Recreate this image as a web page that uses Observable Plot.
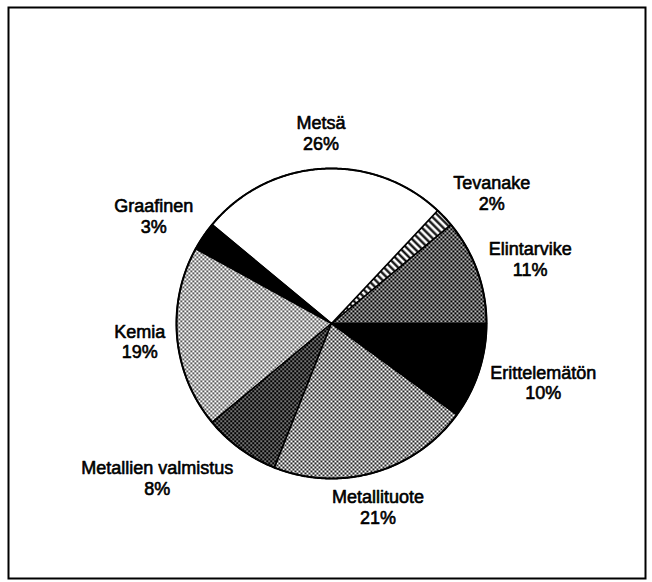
<!DOCTYPE html>
<html><head><meta charset="utf-8">
<script src="https://cdn.jsdelivr.net/npm/d3@7"></script>
<script src="https://cdn.jsdelivr.net/npm/@observablehq/plot@0.6"></script>
<style>html,body{margin:0;padding:0;background:#fff} svg{display:block}</style>
</head><body><div id="chart"></div>
<script>
// Data (counter-clockwise from 3 o'clock)
const categories = ["Elintarvike", "Tevanake", "Metsä", "Graafinen", "Kemia", "Metallien valmistus", "Metallituote", "Erittelemätön"];
const shares = [11, 2, 26, 3, 19, 8, 21, 10];
const shareLabels = ["11%", "2%", "26%", "3%", "19%", "8%", "21%", "10%"];

// Styles
const fills = {
  "Elintarvike": "url(#p-dark)",
  "Tevanake": "url(#p-stripes)",
  "Metsä": "white",
  "Graafinen": "black",
  "Kemia": "url(#p-light)",
  "Metallien valmistus": "url(#p-darker)",
  "Metallituote": "url(#p-medium)",
  "Erittelemätön": "black"
};

const FONT = "'Liberation Sans', Arial, Helvetica, sans-serif";
const FONT_SIZE = 18;
const R = 155; // pie radius in px (1 data unit)
const labelR = 167 / R;
const labelLift = 24 / R;

const ctx = document.createElement("canvas").getContext("2d");
ctx.font = `${FONT_SIZE}px ${FONT}`;
const textWidth = s => Math.max(...s.split("\n").map(l => ctx.measureText(l).width));

const total = d3.sum(shares);
let acc = 0;
const slices = categories.map((c, i) => {
  const a0 = acc / total * 2 * Math.PI;
  acc += shares[i];
  const a1 = acc / total * 2 * Math.PI;
  const mid = (a0 + a1) / 2;
  const label = c + "\n" + shareLabels[i];
  const cs = Math.cos(mid);
  const side = cs > 0.3 ? 1 : cs < -0.3 ? -1 : 0;
  return {
    category: c, a0, a1, mid, label,
    lx: cs * labelR + side * (textWidth(label) / 2) / R,
    ly: Math.sin(mid) * (labelR + labelLift)
  };
});

function arcPoints(a0, a1, withCenter) {
  const pts = withCenter ? [{x: 0, y: 0}] : [];
  const n = Math.max(2, Math.ceil((a1 - a0) / (Math.PI / 360)));
  for (let k = 0; k <= n; k++) {
    const a = a0 + (a1 - a0) * k / n;
    pts.push({x: Math.cos(a), y: Math.sin(a)});
  }
  if (withCenter) pts.push({x: 0, y: 0});
  return pts;
}

const sliceMarks = slices.map(s =>
  Plot.line(arcPoints(s.a0, s.a1, true), {
    x: "x", y: "y", fill: fills[s.category], stroke: "black",
    strokeWidth: 1.5, strokeLinejoin: "round"
  })
);

const W = 652, H = 582;
const mL = 8, mR = 7, mT = 7, mB = 4;
const cx = 331, cy = 323;

const svg = Plot.plot({
  width: W, height: H,
  marginLeft: mL, marginRight: mR, marginTop: mT, marginBottom: mB,
  x: {domain: [-(cx - mL) / R, (W - mR - cx) / R], axis: null},
  y: {domain: [-(H - mB - cy) / R, (cy - mT) / R], axis: null},
  style: {fontFamily: FONT, fontSize: FONT_SIZE + "px", background: "white", color: "black"},
  marks: [
    ...sliceMarks,
    Plot.line(arcPoints(0, 2 * Math.PI, false), {x: "x", y: "y", stroke: "black", strokeWidth: 2}),
    Plot.text(slices, {
      x: "lx", y: "ly", text: "label", textAnchor: "middle",
      lineHeight: 1.15, fill: "black", stroke: "black", strokeWidth: 0.6
    }),
    Plot.frame({stroke: "black", strokeWidth: 2})
  ]
});

d3.select(svg).insert("defs", ":first-child").html(`
  <pattern id="p-light" width="4" height="4" patternUnits="userSpaceOnUse">
    <rect width="4" height="4" fill="#fff"/>
    <rect x="0" y="0" width="1.6" height="1.6" fill="#000"/>
    <rect x="2" y="2" width="1.6" height="1.6" fill="#000"/>
  </pattern>
  <pattern id="p-medium" width="4" height="4" patternUnits="userSpaceOnUse">
    <rect width="4" height="4" fill="#fff"/>
    <rect x="0" y="0" width="1.85" height="1.85" fill="#000"/>
    <rect x="2" y="2" width="1.85" height="1.85" fill="#000"/>
  </pattern>
  <pattern id="p-dark" width="4" height="4" patternUnits="userSpaceOnUse">
    <rect width="4" height="4" fill="#000"/>
    <rect x="0" y="0" width="1.7" height="1.7" fill="#fff"/>
    <rect x="2" y="2" width="1.7" height="1.7" fill="#fff"/>
  </pattern>
  <pattern id="p-darker" width="4" height="4" patternUnits="userSpaceOnUse">
    <rect width="4" height="4" fill="#000"/>
    <rect x="0" y="0" width="1.35" height="1.35" fill="#fff"/>
    <rect x="2" y="2" width="1.35" height="1.35" fill="#fff"/>
  </pattern>
  <pattern id="p-stripes" width="5" height="5" patternUnits="userSpaceOnUse" patternTransform="rotate(45)">
    <rect width="5" height="5" fill="#fff"/>
    <rect x="0" y="1.5" width="5" height="2.2" fill="#000"/>
  </pattern>
`);

document.getElementById("chart").append(svg);
</script>
</body></html>
